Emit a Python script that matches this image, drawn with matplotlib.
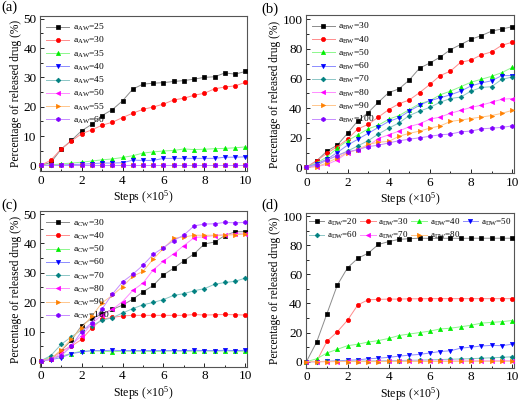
import matplotlib
matplotlib.use("Agg")
from matplotlib import pyplot as plt
from matplotlib.ticker import MultipleLocator
from matplotlib.colors import to_rgb
import numpy as np

plt.rcParams['font.family'] = ['Liberation Serif', 'DejaVu Serif']
plt.rcParams['mathtext.fontset'] = 'custom'
plt.rcParams['mathtext.rm'] = 'Liberation Serif'
plt.rcParams['mathtext.it'] = 'Liberation Serif:italic'

steps = np.arange(0, 10.01, 0.5)

# panel (a): a_AW
aw_labels = [25, 30, 35, 40, 45, 50, 55, 60]
aw_data = [
    [0, 1.0, 5.5, 8.5, 11.8, 14, 17, 19, 22, 26, 27.7, 28, 28.2, 28.6, 28.9, 29.4, 30, 30.2, 31.5, 31.1, 32],
    [0, 1.8, 5.6, 8.3, 10.8, 12.1, 13.7, 14.7, 16.3, 17.8, 19.1, 19.9, 20.9, 22.3, 22.9, 23.9, 24.6, 26.1, 26.7, 27.1, 28.3],
    [0, 0.2, 0.5, 0.8, 1.1, 1.5, 1.9, 2.2, 2.7, 3.3, 4.2, 4.6, 4.9, 5.1, 5.6, 5.4, 5.5, 5.7, 5.8, 6.0, 6.3],
    [0, 0, 0.1, 0.3, 0.4, 0.6, 0.8, 0.8, 0.9, 1.8, 1.7, 1.7, 2.4, 2.4, 2.4, 2.4, 2.4, 2.4, 2.8, 2.8, 2.9],
    [0] * 21,
    [0] * 21,
    [0] * 21,
    [0] * 21,
]

# panel (b): a_BW
bw_labels = [30, 40, 50, 60, 70, 80, 90, 100]
bw_data = [
    [0, 4.5, 11, 15, 23, 31.5, 37, 44, 50.5, 53, 59, 67, 70.5, 74.5, 79.5, 83, 86.5, 89, 92, 93.5, 95],
    [0, 4.5, 9.5, 14, 19, 26, 29, 34, 39, 43, 45.5, 50.5, 56, 62, 65, 71, 72.5, 76, 78, 82.5, 84.5],
    [0, 3, 7, 13, 18, 22, 26, 28.5, 32.5, 35, 39, 43, 45, 49, 51.5, 54.5, 57.5, 59.5, 61.5, 64, 67.5],
    [0, 2.5, 5.5, 10, 15, 19, 23, 27, 31, 33.5, 38, 42, 45, 47, 49, 51.5, 55, 57, 58.5, 62, 62],
    [0, 1.5, 5, 8, 11, 14.5, 18, 22.5, 26.5, 30, 35, 38, 40.5, 44, 46.5, 47.5, 51.5, 54, 54.5, 59.5, 61],
    [0, 0.5, 2, 5, 10, 12, 14.5, 19.5, 22, 24.5, 27.5, 29.5, 32.5, 34, 36.5, 38.5, 40.5, 42, 44, 46, 46.5],
    [0, 0.5, 3, 6.5, 10, 12, 15.5, 17, 17.5, 21, 23, 24.5, 26.5, 28, 31, 32, 33, 34, 35, 36.5, 38.5],
    [0, 1.5, 5, 8, 10.5, 12, 14, 15, 16.5, 18, 19, 20, 21, 22, 22.5, 24, 24.5, 26, 26.5, 27, 28],
]

# panel (c): a_CW
cw_labels = [30, 40, 50, 60, 70, 80, 90, 100]
cw_data = [
    [0, 0.7, 3.5, 7, 12, 14.5, 16, 17.5, 19, 21, 23.5, 25.7, 29.3, 31.6, 34.1, 36.5, 39.8, 40.5, 42.7, 44, 44],
    [0, 0.7, 3.3, 5, 7.3, 11.2, 14.2, 14.8, 15.3, 15.5, 15.5, 15.5, 15.5, 15.5, 15.5, 15.8, 15.6, 15.7, 15.8, 15.7, 15.6],
    [0, 1.3, 1.6, 2.5, 3.3, 3.4, 3.3, 3.1, 3.3, 3.3, 3.3, 3.2, 3.3, 3.4, 3.3, 3.3, 3.4, 3.3, 3.4, 3.3, 3.3],
    [0, 0.4, 1.1, 2.5, 3.0, 3.5, 3.5, 3.6, 3.5, 3.5, 3.5, 3.5, 3.5, 3.5, 3.5, 3.6, 3.5, 3.5, 3.6, 3.5, 3.6],
    [0, 1.8, 5.6, 8.2, 10.5, 12, 13.8, 14.7, 16.3, 17.8, 19.1, 19.9, 20.9, 22.3, 22.9, 23.9, 24.6, 26.1, 26.7, 27.1, 28.2],
    [0, 0.5, 2.5, 5.5, 8.5, 12.7, 15.7, 17.5, 20.2, 24, 26.5, 31, 34, 36.5, 39.3, 42, 42.3, 42.7, 43, 43.3, 43.3],
    [0, 0.8, 3.7, 7.5, 11.3, 15.2, 19.8, 22.3, 25.3, 28.8, 30.5, 34.7, 38.3, 41.8, 42.2, 42.8, 42.8, 42.8, 42.8, 43, 43.2],
    [0, 0.5, 1.7, 5, 10, 13, 17.7, 22.7, 26.9, 29.5, 32.6, 36.3, 38.6, 41, 42.9, 46, 46.6, 46.7, 47.2, 47, 47.2],
]

# panel (d): a_DW
dw_labels = [20, 30, 40, 50, 60, 70, 80]
dw_data = [
    [0, 13.5, 33, 52.5, 64.5, 71, 74.5, 80.5, 82.5, 84, 84.5, 84.8, 84.7, 84.7, 84.8, 84.7, 84.8, 84.8, 84.8, 84.8, 84.8],
    [0, 0.3, 14, 20.5, 28.5, 39, 42.5, 42.8, 43, 43, 43.2, 43.2, 43.3, 43.3, 43.3, 43.3, 43.3, 43.3, 43.3, 43.3, 43.3],
    [0, 2, 6, 8.5, 11, 12, 13.5, 14.5, 16, 18, 19, 20, 21, 22.5, 23, 24, 25, 26.5, 27, 27.5, 28.3],
    [0, 0, 0.3, 0.6, 1.0, 1.3, 2.0, 2.4, 3.0, 3.8, 4.5, 5.0, 6.0, 7.0, 7.5, 9.3, 10, 10.8, 11.2, 11, 12],
    [0, 0.1, 0.2, 0.3, 0.4, 0.4, 0.5, 0.6, 0.7, 0.8, 1.0, 1.1, 1.3, 1.5, 1.7, 1.9, 2.1, 2.4, 2.7, 3.0, 3.4],
    [0, 0, 0.1, 0.1, 0.2, 0.2, 0.2, 0.3, 0.3, 0.3, 0.4, 0.4, 0.4, 0.5, 0.5, 0.5, 0.6, 0.6, 0.6, 0.7, 0.7],
    [0, 0, 0, 0.1, 0.1, 0.1, 0.1, 0.1, 0.2, 0.2, 0.2, 0.2, 0.2, 0.2, 0.2, 0.3, 0.3, 0.3, 0.3, 0.3, 0.3],
]

colors = ['#000000', '#ff0000', '#00ee00', '#0000ff', '#008080', '#ff00ff', '#ff8000', '#8000ff']
markers = ['s', 'o', '^', 'v', 'D', '<', '>', 'h']


def light(c, f=0.55):
    r, g, b = to_rgb(c)
    return (r + (1 - r) * f, g + (1 - g) * f, b + (1 - b) * f)


fig = plt.figure(figsize=(5.2, 4.03), dpi=100)
ax_a = fig.add_axes([0.077, 0.575, 0.398, 0.386])
ax_b = fig.add_axes([0.588, 0.57, 0.400, 0.393])
ax_c = fig.add_axes([0.077, 0.09, 0.398, 0.386])
ax_d = fig.add_axes([0.588, 0.088, 0.400, 0.383])

panels = [
    (ax_a, aw_labels, aw_data, 'AW', (-2, 51), 10),
    (ax_b, bw_labels, bw_data, 'BW', (-4, 103), 20),
    (ax_c, cw_labels, cw_data, 'CW', (-2, 51), 10),
    (ax_d, dw_labels, dw_data, 'DW', (-4, 102), 20),
]

for ax, labs, data, sub, ylim, ystep in panels:
    for i, (lab, ys) in enumerate(zip(labs, data)):
        ms = 2.4 if markers[i] == 'D' else 3
        ax.plot(steps, ys, color=light(colors[i]), lw=0.7, marker=markers[i],
                ms=ms, mfc=colors[i], mec=colors[i], mew=0.5,
                label=r'a$_{\mathrm{%s}}$=%d' % (sub, lab), clip_on=False, zorder=3)
    ax.set_xlim(-0.03, 10.08)
    ax.set_ylim(*ylim)
    ax.xaxis.set_major_locator(MultipleLocator(2))
    ax.xaxis.set_minor_locator(MultipleLocator(1))
    ax.yaxis.set_major_locator(MultipleLocator(ystep))
    ax.yaxis.set_minor_locator(MultipleLocator(ystep / 2))
    ax.tick_params(which='both', direction='in', labelsize=9.5, width=0.6, pad=2.5)
    ax.tick_params(which='major', length=3)
    ax.tick_params(which='minor', length=1.8)
    for s in ax.spines.values():
        s.set_linewidth(0.8)
        s.set_color('#555555')
    ax.set_xlabel(r'Steps ($\times$10$^5$)', fontsize=8.5, labelpad=1.5)
    ax.set_ylabel('Percentage of released drug (%)', fontsize=8.3, labelpad=1)

for ax in (ax_a, ax_b, ax_c):
    ax.legend(loc='upper left', frameon=False, fontsize=6.8, handlelength=2.4,
              labelspacing=0.22, borderaxespad=0.25, handletextpad=0.4)

# row-wise order for the 4-column legend in (d)
h, l = ax_d.get_legend_handles_labels()
order = [0, 4, 1, 5, 2, 6, 3]
ax_d.legend([h[k] for k in order], [l[k] for k in order], loc='upper left',
            frameon=False, fontsize=6.5, ncol=4, handlelength=1.7,
            labelspacing=0.25, borderaxespad=0.15, borderpad=0.2,
            handletextpad=0.3, columnspacing=0.3)

fig.text(0.003, 0.982, '(a)', fontsize=10.5, va='center')
fig.text(0.502, 0.978, '(b)', fontsize=10.5, va='center')
fig.text(0.003, 0.49, '(c)', fontsize=10.5, va='center')
fig.text(0.502, 0.49, '(d)', fontsize=10.5, va='center')

fig.savefig('out.png', dpi=100)
